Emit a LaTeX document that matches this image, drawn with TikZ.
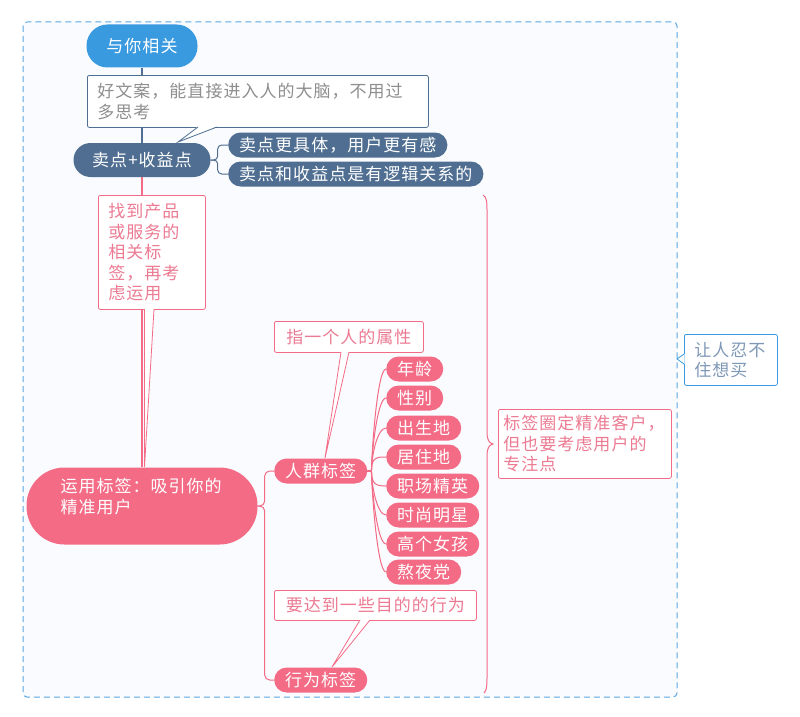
\documentclass[tikz,border=0pt]{standalone}
\usepackage{fontspec}
\setmainfont{Noto Sans CJK SC}[LetterSpace=6]
\newcommand\fs{\fontsize{17}{20.5}\selectfont}

\definecolor{bluec}{HTML}{3A9AE0}
\definecolor{slatec}{HTML}{4F6E91}
\definecolor{pinkc}{HTML}{F46B86}
\definecolor{bgc}{HTML}{F9FBFE}
\definecolor{framec}{HTML}{5BA6E2}
\definecolor{greytext}{HTML}{8E8E8E}
\definecolor{pinktext}{HTML}{EC7A92}
\definecolor{bluetext}{HTML}{7D97B6}

\tikzset{
  pill/.style={rounded corners=12.5, minimum height=25, inner xsep=11, inner ysep=0, text=white, font=\fs},
  pinkpill/.style={pill, fill=pinkc},
  slatepill/.style={pill, fill=slatec},
  note/.style={draw, fill=white, rounded corners=2, align=left, inner xsep=10, inner ysep=4, line width=0.8, font=\fs, anchor=north west},
  link/.style={line width=1},
  mainlink/.style={line width=1.6}
}

\begin{document}
\begin{tikzpicture}[x=1pt, y=-1pt]
	\useasboundingbox (0,0) rectangle (800,717);
	% frame of the whole group
	\draw[framec, fill=bgc, rounded corners=4, line width=1, dash pattern=on 6pt off 4pt] (23,22) rectangle (677,697);

	% main branch
	\node[pill, fill=bluec, minimum width=111, minimum height=43, rounded corners=21, inner xsep=0] (top) at (142,46) {与你相关};
	\node[slatepill, minimum width=137, minimum height=34, rounded corners=17, inner xsep=0] (mp) at (142,160) {卖点+收益点};
	\node[pinkpill, minimum height=77, rounded corners=38, align=left, text width=163, inner xsep=34] (tag) at (142,506) {运用标签：吸引你的\\精准用户\\ \mbox{}};
	\draw[slatec, mainlink] (top) -- (mp);
	\draw[pinkc, mainlink] (mp) -- (tag);

	% selling points
	\node[slatepill, anchor=west] (mp1) at (228,145) {卖点更具体，用户更有感};
	\node[slatepill, anchor=west] (mp2) at (228,174) {卖点和收益点是有逻辑关系的};
	\draw[slatec, link, rounded corners=4] (mp.east) -- ++(7,0) |- (mp1.west);
	\draw[slatec, link, rounded corners=4] (mp.east) -- ++(7,0) |- (mp2.west);

	% tags
	\node[pinkpill, anchor=west] (crowd) at (274,471) {人群标签};
	\node[pinkpill, anchor=west] (act) at (274,680) {行为标签};
	\draw[pinkc, link, rounded corners=5] (tag.east) -- ++(7,0) |- (crowd.west);
	\draw[pinkc, link, rounded corners=5] (tag.east) -- ++(7,0) |- (act.west);

	\node[pinkpill, anchor=west] (age) at (386,369) {年龄};
	\node[pinkpill, anchor=west] (sex) at (386,398) {性别};
	\node[pinkpill, anchor=west] (birth) at (386,428) {出生地};
	\node[pinkpill, anchor=west] (home) at (386,457) {居住地};
	\node[pinkpill, anchor=west] (elite) at (386,486) {职场精英};
	\node[pinkpill, anchor=west] (star) at (386,515) {时尚明星};
	\node[pinkpill, anchor=west] (tall) at (386,544) {高个女孩};
	\node[pinkpill, anchor=west] (night) at (386,572) {熬夜党};
	\foreach \c in {age,sex,birth,home}
		\draw[pinkc, link] (crowd.east) -- ++(4,0) .. controls +(0,-14) and +(-9,0) .. (\c.west);
	\foreach \c in {elite,star,tall,night}
		\draw[pinkc, link] (crowd.east) -- ++(4,0) .. controls +(0,14) and +(-9,0) .. (\c.west);

	% notes
	\node[note, draw=slatec, text=greytext, text width=321, minimum height=52] (n1) at (87,75) {好文案，能直接进入人的大脑，不用过\\多思考};
	\fill[white] (198,126.4) -- (178,142) -- (217,126.4) -- cycle;
	\draw[slatec, line width=0.8] (198,127) -- (178,142) -- (217,127);

	\node[note, draw=pinkc, text=pinktext, text width=87, minimum height=114] (n2) at (98,195) {找到产品\\或服务的\\相关标\\签，再考\\虑运用};
	\fill[white] (144.5,308.4) -- (144.5,467) -- (154,308.4) -- cycle;
	\draw[pinkc, line width=0.8] (144.5,309) -- (144.5,467) -- (154,309);

	\node[note, draw=pinkc, text=pinktext, minimum width=149, minimum height=31] (n3) at (274,321) {指一个人的属性};
	\fill[white] (341,351.4) -- (325,458) -- (349,351.4) -- cycle;
	\draw[pinkc, line width=0.8] (341,352) -- (325,458) -- (349,352);

	\node[note, draw=pinkc, text=pinktext, minimum width=202, minimum height=30] (n4) at (274,590) {要达到一些目的的行为};
	\fill[white] (360,619.4) -- (332,667) -- (370,619.4) -- cycle;
	\draw[pinkc, line width=0.8] (360,620) -- (332,667) -- (370,620);

	% summary brace
	\draw[pinkc, link] (483,195) .. controls (487,197) and (487,203) .. (487,212) -- (487,432)
		.. controls (487,440) and (489,443) .. (493,444) .. controls (489,445) and (487,448) .. (487,456)
		-- (487,678) .. controls (487,688) and (486,691) .. (484,693);
	\node[note, draw=pinkc, text=pinktext, text width=163, inner xsep=5, minimum height=69] (n5) at (498,409) {标签圈定精准客户，\\但也要考虑用户的\\专注点};

	% note on the frame
	\node[note, draw=bluec, text=bluetext, text width=73, minimum height=51] (n6) at (684,334) {让人忍不\\住想买};
	\fill[white] (684.6,354) -- (677,359) -- (684.6,364) -- cycle;
	\draw[bluec, line width=0.8] (684,354) -- (677,359) -- (684,364);
\end{tikzpicture}
\end{document}
